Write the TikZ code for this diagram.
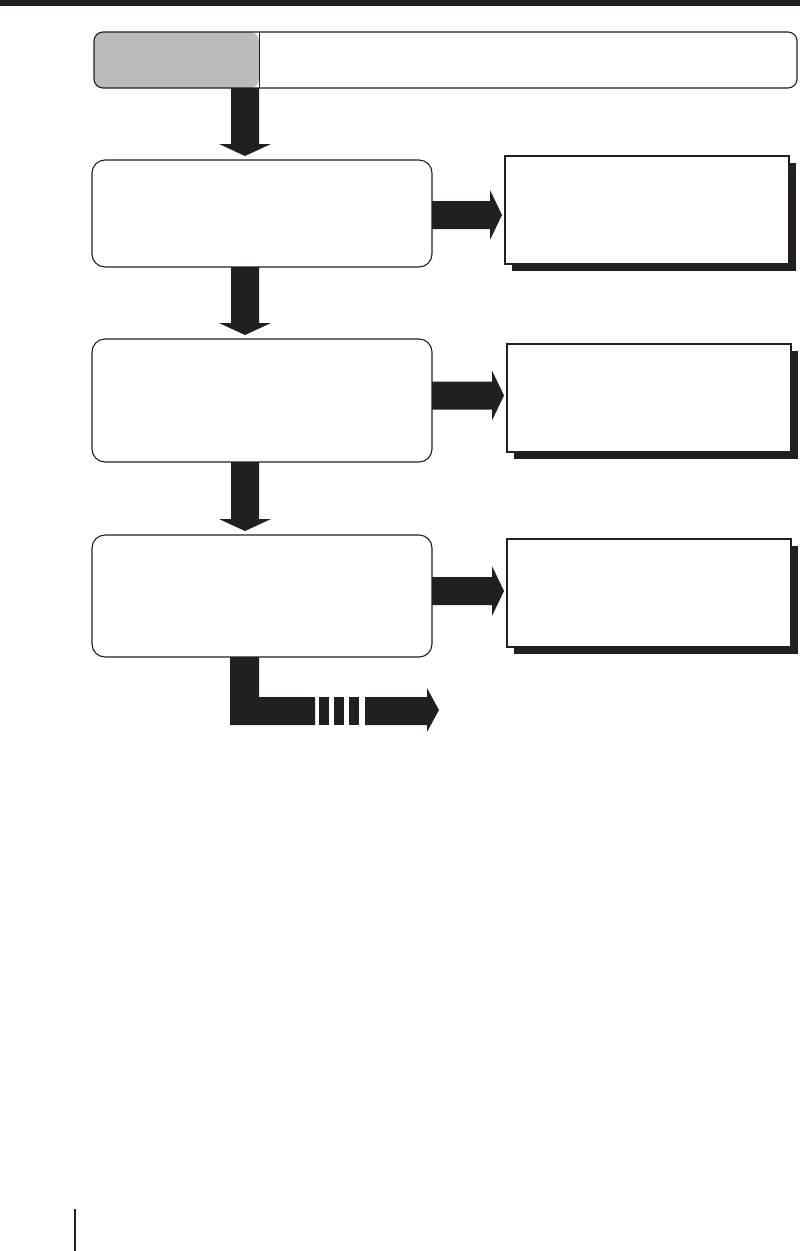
\documentclass[tikz,border=0pt]{standalone}
\usetikzlibrary{calc,shadows}
\definecolor{blk}{RGB}{35,31,32}
\definecolor{graybox}{RGB}{187,187,187}
\newcommand{\downblock}[2]{%
  \fill[blk] ($(ax |- #1.south)+(-14,0)$) -- ($(ax |- #2.north)+(-14,-16)$)
    -- ($(ax |- #2.north)+(-26,-16)$) -- ($(ax |- #2.north)+(0,-4)$)
    -- ($(ax |- #2.north)+(26,-16)$) -- ($(ax |- #2.north)+(14,-16)$)
    -- ($(ax |- #1.south)+(14,0)$) -- cycle;}
\newcommand{\rightblock}[3]{%
  \fill[blk] ($(#1.east)+(0,#3-14)$) -- ($(#2.west |- #1.east)+(-15,#3-14)$)
    -- ($(#2.west |- #1.east)+(-15,#3-25)$) -- ($(#2.west |- #1.east)+(-3,#3)$)
    -- ($(#2.west |- #1.east)+(-15,#3+25)$) -- ($(#2.west |- #1.east)+(-15,#3+14)$)
    -- ($(#1.east)+(0,#3+14)$) -- cycle;}
\tikzset{
  flowbox/.style={draw=blk, line width=1.1pt, fill=white, rounded corners=13pt,
    minimum width=340pt, inner sep=0pt, outer sep=0pt},
  sidebox/.style={draw=blk, line width=1.1pt, fill=white, minimum width=284pt,
    minimum height=108pt, inner sep=0pt, outer sep=0pt,
    drop shadow={shadow xshift=6.5pt, shadow yshift=-6.5pt, opacity=1, fill=blk}},
}
\begin{document}
\begin{tikzpicture}[x=1pt,y=-1pt]
\useasboundingbox (0,0) rectangle (800,1251);
% top rule
\fill[blk] (0,0) rectangle (800,6);
\coordinate (ax) at (245,0);
% header box
\node[draw=blk, line width=1.1pt, fill=white, rounded corners=9pt, minimum width=703pt,
  minimum height=56pt, inner sep=0pt, outer sep=0pt,
  path picture={\fill[graybox] (path picture bounding box.south west) rectangle ($(path picture bounding box.north west)+(165,0)$);}]
  (top) at (445.5,60) {};
\draw[blk, line width=1pt] (259,0 |- top.north) -- (259,0 |- top.south);
% flow boxes
\node[flowbox, minimum height=107pt] (b1) at (262,213.5) {};
\node[flowbox, minimum height=123pt] (b2) at (262,400.5) {};
\node[flowbox, minimum height=122pt] (b3) at (262,596) {};
% side boxes
\node[sidebox] (s1) at (647,210) {};
\node[sidebox] (s2) at (649,398) {};
\node[sidebox] (s3) at (649,593) {};
% down arrows
\downblock{top}{b1}
\downblock{b1}{b2}
\downblock{b2}{b3}
% right arrows
\rightblock{b1}{s1}{1.5}
\rightblock{b2}{s2}{-5}
\rightblock{b3}{s3}{-5}
% continuation arrow
\coordinate (lc) at (ax |- b3.south);
\fill[blk] ($(lc)+(-15,0)$) -- ($(lc)+(14,0)$) |- (315,697) -- (315,725) -| cycle;
\fill[blk] (319,697) rectangle (329,725);
\fill[blk] (334,697) rectangle (344,725);
\fill[blk] (349,697) rectangle (359,725);
\fill[blk] (365,697) -- (427,697) -- (427,688) -- (439,710) -- (427,732) -- (427,725) -- (365,725) -- cycle;
% page margin line
\fill[blk] (74,1209) rectangle (76,1251);
\end{tikzpicture}
\end{document}
